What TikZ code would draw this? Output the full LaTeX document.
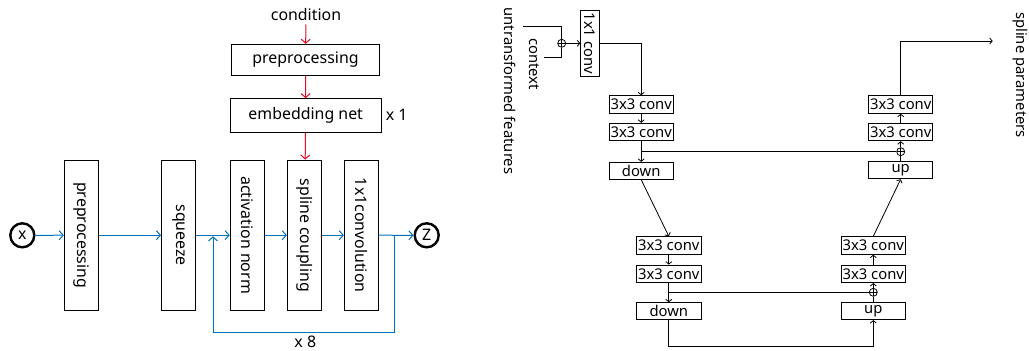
\documentclass[tikz,border=0pt]{standalone}
\usepackage{fontspec}
\setmainfont{Noto Sans}
\usetikzlibrary{arrows.meta}
\definecolor{flowblue}{RGB}{0,114,189}
\definecolor{condred}{RGB}{228,10,40}
\begin{document}
\begin{tikzpicture}[x=1pt,y=-1pt,
  lfont/.style={font=\fontsize{15.9}{18}\selectfont},
  rfont/.style={font=\fontsize{14.8}{16}\selectfont},
  bigbox/.style={draw,line width=0.9pt,inner sep=0pt,lfont},
  tallbox/.style={draw,line width=0.9pt,inner sep=0pt,minimum width=34pt,minimum height=150.3pt,lfont},
  vtext/.style={rotate=-90},
  ring/.style={draw,circle,line width=2.4pt,minimum size=24pt,inner sep=0pt,lfont},
  blueflow/.style={draw=flowblue,line width=1pt,-{Straight Barb[length=4pt,width=9pt]}},
  blueline/.style={draw=flowblue,line width=1pt},
  redflow/.style={draw=condred,line width=1pt,-{Straight Barb[length=4pt,width=9pt]}},
  cbox/.style={draw,line width=0.8pt,inner sep=0pt,minimum width=64.3pt,minimum height=17.6pt,rfont},
  oplus/.style={draw,circle,line width=0.8pt,minimum size=8pt,inner sep=0pt,
    path picture={\draw[line width=0.8pt] (path picture bounding box.north) -- (path picture bounding box.south)
      (path picture bounding box.west) -- (path picture bounding box.east);}},
  kflow/.style={draw,line width=0.8pt,-{Straight Barb[length=2.5pt,width=6pt]}},
  kline/.style={draw,line width=0.8pt},
]
\useasboundingbox (0,0) rectangle (1029,351);

% ---------- left diagram ----------
\node[lfont] (cond) at (306,14.7) {condition};
\node[bigbox,minimum width=147.6pt,minimum height=31.4pt] (pre2) at (305.5,60) {preprocessing};
\node[bigbox,minimum width=150.7pt,minimum height=33.6pt] (emb) at (305.7,115.5) {embedding net};
\node[lfont] (x1) at (396.7,115) {x 1};

\node[tallbox] (pre) at (81.3,235.2) {};
\node[lfont,vtext] at (pre.center) {preprocessing};
\node[tallbox] (sq) at (178.5,235.2) {};
\node[lfont,vtext] at (sq.center) {squeeze};
\node[tallbox] (an) at (247.2,235.2) {};
\node[lfont,vtext] at (an.center) {activation norm};
\node[tallbox] (sc) at (304.3,235.2) {};
\node[lfont,vtext] at (sc.center) {spline coupling};
\node[tallbox] (cv) at (361.3,235.2) {};
\node[lfont,vtext] at (cv.center) {1x1convolution};

\node[ring] (xc) at (22.3,235.3) {x};
\node[ring] (zc) at (426.7,235.3) {Z};

\draw[redflow] (cond) -- (pre2);
\draw[redflow] (pre2) -- (emb);
\draw[redflow] (emb) -- (sc);

\draw[blueflow] (xc) -- (pre);
\draw[blueflow] (pre) -- (sq);
\draw[blueflow] (sq) -- (an);
\draw[blueflow] (an) -- (sc);
\draw[blueflow] (sc) -- (cv);
\draw[blueflow] (cv) -- (zc);

\coordinate (lpA) at (394.7,235.3);
\coordinate (lpB) at (213,236.3);
\draw[blueflow] (lpA) -- (394.7,332.3) -| (lpB);
\node[lfont] (x8) at (305.3,341.7) {x 8};

% ---------- right diagram ----------
\node[rfont,vtext] (uf) at (510,91) {untransformed features};
\node[rfont,vtext] (ctx) at (534.3,64) {context};
\node[oplus] (op1) at (561.7,43.3) {};
\coordinate (ufS) at (522.7,26.7);
\coordinate (ctxS) at (544.3,57.3);
\draw[kline] (ufS) -| (op1);
\draw[kline] (ctxS) -| (op1);

\node[draw,line width=0.8pt,inner sep=0pt,minimum width=18.3pt,minimum height=65.3pt] (c11) at (589.8,43.3) {};
\node[rfont,vtext] at (c11.center) {1x1 conv};
\draw[kflow] (op1) -- (c11);

\node[cbox] (a1) at (641.2,104.5) {3x3 conv};
\node[cbox] (a2) at (641.2,132) {3x3 conv};
\node[cbox,minimum height=17pt] (d1) at (641.2,170.8) {down};
\node[cbox] (a3) at (668.8,245.5) {3x3 conv};
\node[cbox] (a4) at (668.8,273.8) {3x3 conv};
\node[cbox,minimum height=17pt] (d2) at (668.8,311.2) {down};

\node[cbox] (b1) at (900.7,104.5) {3x3 conv};
\node[cbox] (b2) at (900.7,132) {3x3 conv};
\node[cbox,minimum height=17pt] (u1) at (900.7,170.3) {up};
\node[cbox] (b3) at (873.3,245.5) {3x3 conv};
\node[cbox] (b4) at (873.3,273.8) {3x3 conv};
\node[cbox,minimum height=17pt] (u2) at (873.3,311.2) {up};

\node[oplus] (op2) at (900.7,151.7) {};
\node[oplus] (op3) at (873.3,292.3) {};

\draw[kflow] (c11.east) -| (a1.north);
\draw[kflow] (a1) -- (a2);
\draw[kflow] (a2) -- (d1);
\draw[kflow] (d1.south) -- (a3.north);
\draw[kflow] (a3) -- (a4);
\draw[kflow] (a4) -- (d2);

\draw[kline] (a2.south |- op2) -- (op2);
\draw[kline] (a4.south |- op3) -- (op3);

\draw[kflow] (d2.south) -- (668.8,346.7) -| (u2.south);
\draw[kline] (u2) -- (op3);
\draw[kflow] (op3) -- (b4);
\draw[kflow] (b4) -- (b3);
\draw[kflow] (b3.north) -- (u1.south);
\draw[kline] (u1) -- (op2);
\draw[kflow] (op2) -- (b2);
\draw[kflow] (b2) -- (b1);

\node[rfont,vtext] (sp) at (1020.5,75) {spline parameters};
\coordinate (spA) at (992.7,41);
\draw[kflow] (b1.north) |- (spA);
\end{tikzpicture}
\end{document}
